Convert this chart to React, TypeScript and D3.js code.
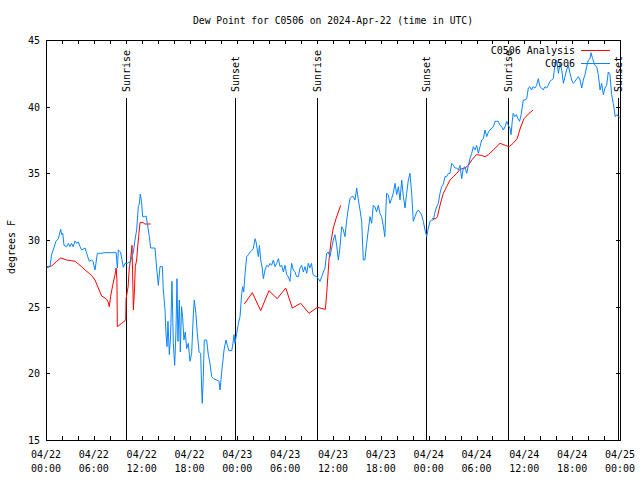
import React from "react";
import * as d3 from "d3";

// hours since 2024-04-22 00:00 UTC
const obsHours = [
  0.0, 0.3, 0.5, 0.7, 0.9, 1.25, 1.55, 1.84, 1.96, 2.1, 2.26, 2.6, 2.8, 3.0, 3.2, 3.4, 3.64, 3.85, 4.05, 4.27,
  4.47, 4.9, 5.1, 5.43, 5.7, 5.9, 6.15, 6.44, 6.8, 7.5, 8.8, 8.95, 9.07, 9.35, 9.7, 9.9, 10.2, 10.6, 10.8, 10.96,
  11.16, 11.37, 11.58, 11.7, 11.83, 11.98, 12.13, 12.34, 12.55, 12.71, 12.96, 13.13, 13.67, 13.88, 14.09, 14.3,
  14.6, 14.7, 14.93, 15.05, 15.18, 15.3, 15.47, 15.63, 15.8, 15.97, 16.14, 16.3, 16.43, 16.55, 16.72, 16.85, 17.0,
  17.14, 17.3, 17.47, 17.64, 17.85, 18.06, 18.27, 18.48, 18.6, 18.8, 18.98, 19.2, 19.4, 19.53, 19.6, 19.73, 19.86,
  20.15, 20.36, 20.57, 20.78, 21.0, 21.4, 21.7, 21.83, 22.04, 22.33, 22.58, 22.75, 22.95, 23.3, 23.45, 23.58, 23.7,
  23.92, 24.13, 24.34, 24.55, 24.67, 24.8, 24.96, 25.17, 25.4, 25.6, 25.8, 26.0, 26.22, 26.35, 26.5, 26.64, 26.77,
  26.93, 27.1, 27.26, 27.47, 27.68, 27.9, 28.1, 28.3, 28.52, 28.73, 28.94, 29.15, 29.36, 29.57, 29.77, 29.98,
  30.19, 30.4, 30.6, 30.81, 31.02, 31.23, 31.44, 31.65, 31.86, 32.07, 32.28, 32.49, 32.7, 32.9, 33.1, 33.3, 33.5,
  33.74, 33.95, 34.16, 34.37, 34.58, 34.79, 35.0, 35.2, 35.4, 35.62, 35.83, 36.04, 36.25, 36.46, 36.67, 36.88,
  37.09, 37.3, 37.5, 37.72, 37.93, 38.13, 38.34, 38.55, 38.76, 38.97, 39.18, 39.39, 39.6, 39.8, 40.0, 40.22, 40.43,
  40.64, 40.85, 41.05, 41.26, 41.47, 41.68, 41.89, 42.1, 42.3, 42.5, 42.72, 42.93, 43.14, 43.35, 43.56, 43.78,
  43.99, 44.2, 44.41, 44.62, 44.83, 45.04, 45.24, 45.45, 45.66, 45.87, 46.07, 46.28, 46.49, 46.7, 46.9, 47.1,
  47.33, 47.54, 47.75, 47.96, 48.17, 48.38, 48.59, 48.8, 49.0, 49.21, 49.42, 49.63, 49.84, 50.05, 50.26, 50.47,
  50.68, 50.89, 51.1, 51.31, 51.52, 51.73, 51.93, 52.14, 52.35, 52.56, 52.77, 52.98, 53.18, 53.4, 53.6, 53.81,
  54.02, 54.23, 54.44, 54.65, 54.86, 55.07, 55.28, 55.49, 55.7, 55.91, 56.12, 56.32, 56.53, 56.74, 56.95, 57.16,
  57.37, 57.58, 57.79, 58.0, 58.2, 58.33, 58.5, 58.6, 58.8, 59.0, 59.2, 59.4, 59.6, 59.87, 60.08, 60.3, 60.5,
  60.7, 60.9, 61.1, 61.33, 61.54, 61.75, 61.96, 62.17, 62.38, 62.59, 62.8, 63.0, 63.2, 63.43, 63.64, 63.85, 64.06,
  64.27, 64.48, 64.69, 64.9, 65.1, 65.3, 65.52, 65.73, 65.94, 66.15, 66.36, 66.57, 66.78, 66.99, 67.2, 67.4,
  67.61, 67.82, 68.03, 68.24, 68.36, 68.57, 68.86, 69.07, 69.28, 69.5, 69.7, 69.91, 70.12, 70.33, 70.53, 70.74,
  70.95, 71.16, 71.4, 71.6, 71.8, 72.0,
];
const obsDew = [
  27.95, 27.95, 28.0, 28.9, 29.25, 29.9, 30.1, 30.8, 30.4, 30.5, 29.6, 29.5, 29.75, 29.5, 29.75, 29.5, 29.93,
  29.75, 29.85, 29.5, 29.25, 29.4, 29.0, 28.4, 28.5, 28.4, 27.75, 29.0, 29.0, 29.05, 29.05, 27.9, 29.25, 29.1,
  27.95, 28.25, 28.25, 28.4, 28.75, 29.1, 30.0, 30.75, 32.5, 32.7, 33.45, 32.9, 31.75, 31.75, 31.8, 31.25, 30.25,
  29.4, 29.4, 27.9, 26.6, 28.0, 28.0, 26.4, 24.75, 23.0, 22.0, 23.9, 21.4, 22.8, 26.9, 22.25, 20.6, 23.1, 27.1,
  22.4, 25.5, 21.6, 25.0, 24.2, 22.5, 23.1, 21.85, 22.25, 20.9, 21.5, 24.4, 25.5, 24.5, 23.0, 21.6, 21.5, 18.75,
  17.75, 19.75, 22.5, 22.5, 21.4, 20.75, 19.75, 19.6, 19.5, 19.4, 18.75, 20.1, 21.75, 22.5, 22.1, 21.7, 21.7,
  22.25, 22.9, 22.25, 23.0, 23.75, 24.25, 26.0, 26.5, 26.1, 27.4, 28.75, 28.9, 29.1, 29.2, 29.35, 30.1, 29.85,
  29.25, 28.75, 29.6, 28.5, 28.0, 27.1, 27.75, 28.1, 28.0, 28.25, 28.1, 28.5, 28.0, 28.25, 28.6, 28.0, 28.1, 27.6,
  28.1, 27.4, 27.25, 26.9, 28.25, 27.75, 27.6, 27.25, 27.25, 27.9, 28.1, 27.6, 28.0, 27.5, 28.25, 27.9, 28.25,
  27.4, 27.3, 27.25, 27.1, 26.9, 27.25, 27.6, 27.9, 29.0, 29.1, 28.75, 29.4, 30.0, 30.4, 29.6, 28.5, 29.5, 31.0,
  30.75, 30.25, 31.5, 32.4, 33.1, 33.25, 33.25, 33.0, 33.9, 33.0, 32.25, 31.4, 28.5, 28.5, 29.75, 30.75, 31.75,
  31.25, 32.6, 32.5, 32.1, 32.6, 32.0, 31.75, 31.1, 30.25, 33.5, 33.4, 32.75, 33.1, 33.5, 34.25, 33.4, 34.0, 33.0,
  34.5, 33.25, 32.4, 33.5, 34.5, 35.0, 33.5, 31.4, 31.75, 32.1, 32.25, 32.1, 31.9, 31.4, 30.75, 30.25, 30.9, 31.4,
  31.5, 31.5, 32.1, 32.5, 32.75, 33.5, 34.0, 34.2, 34.75, 34.75, 35.0, 35.0, 35.75, 35.6, 35.4, 35.4, 35.25, 35.6,
  34.6, 35.4, 35.5, 35.0, 35.6, 36.1, 36.5, 37.0, 36.75, 37.1, 36.5, 37.0, 37.5, 37.6, 38.25, 37.75, 38.1, 38.25,
  38.4, 38.5, 38.9, 38.9, 38.9, 38.6, 38.5, 38.25, 38.5, 38.9, 38.6, 38.4, 37.9, 39.0, 39.5, 39.25, 39.4, 39.1,
  38.9, 39.4, 40.5, 40.5, 40.6, 41.4, 41.5, 41.25, 41.5, 41.4, 41.6, 42.1, 41.5, 41.4, 41.25, 41.5, 41.4, 41.6,
  41.9, 42.0, 42.1, 43.25, 43.5, 42.5, 43.25, 42.75, 41.75, 42.25, 42.75, 43.1, 42.5, 42.0, 41.75, 41.9, 42.1,
  42.25, 42.0, 41.4, 42.0, 42.4, 43.0, 43.5, 43.6, 44.05, 43.6, 43.1, 43.0, 42.4, 41.25, 41.75, 40.9, 41.4, 41.6,
  42.6, 42.4, 40.9, 40.25, 39.25, 39.4, 39.25, 39.2,
];

// analysis: NaN marks a gap between runs
const anaHours = [
  0.0, 0.3, 0.7, 1.34, 1.84, 2.6, 3.2, 3.64, 4.05, 4.47, 4.9, 5.3, 5.7, 6.15, 6.56, 6.98, 7.4, 7.6, 7.8, 7.94,
  8.1, 8.36, 8.66, 8.8, 8.9, 8.95, 9.5, 10.0, 10.05, 10.3, 10.45, 10.6, 10.79, 10.96, 11.1, 11.2, 11.37, 11.5,
  11.62, 11.79, 12.2, 12.4, 13.13, 18.0,
  24.88, 25.88, 26.93, 27.97, 29.0, 30.07, 30.9, 31.95, 32.99, 34.03, 35.04, 35.2, 35.5, 35.75, 36.04, 36.38,
  36.67, 36.96, 42.0,
  48.45, 48.9, 49.1, 49.42, 49.6, 49.84, 50.26, 50.68, 51.1, 51.52, 51.93, 52.56, 52.98, 53.4, 54.0, 54.6, 55.07,
  55.5, 56.1, 56.95, 57.6, 58.1, 58.6, 59.1, 59.5, 59.96, 60.5, 61.1,
];
const anaDew = [
  28.0, 28.0, 28.05, 28.4, 28.65, 28.5, 28.45, 28.4, 28.2, 28.0, 27.75, 27.55, 27.35, 27.0, 26.4, 25.8, 25.65,
  25.55, 25.35, 25.0, 25.75, 26.6, 27.4, 27.9, 27.0, 23.5, 23.75, 24.0, 25.6, 26.5, 27.9, 28.5, 29.6, 24.75,
  26.25, 28.0, 28.5, 29.5, 30.25, 31.3, 31.3, 31.2, 31.2, NaN,
  25.2, 26.05, 24.7, 26.2, 25.6, 26.4, 24.9, 25.25, 24.5, 24.95, 24.8, 25.9, 28.5, 29.9, 30.9, 31.6, 32.1, 32.6,
  NaN,
  31.6, 31.6, 31.75, 32.6, 33.0, 33.5, 34.0, 34.5, 34.75, 35.0, 35.3, 35.4, 35.6, 36.0, 36.4, 36.35, 36.25, 36.4,
  36.75, 37.25, 37.1, 37.0, 37.25, 37.6, 38.4, 39.1, 39.45, 39.75,
];

const sunriseHours = [10.0, 34.0, 58.0];
const sunsetHours = [23.65, 47.65, 71.75];
const yTicks = [15, 20, 25, 30, 35, 40, 45];

const title = "Dew Point for C0506 on 2024-Apr-22 (time in UTC)";
const start = Date.UTC(2024, 3, 22);
const toDate = (h: number) => new Date(start + h * 3600e3);

const font = "'DejaVu Sans Mono', monospace";
const red = "#ff0000";
const blue = "#0a84ff";

export default function App() {
  const left = 46, right = 620, top = 40, bottom = 440;
  const x = d3.scaleUtc().domain([toDate(0), toDate(72)]).range([left, right]);
  const y = d3.scaleLinear().domain([15, 45]).range([bottom, top]);

  const obs = obsHours.map((h, i) => ({ t: toDate(h), v: obsDew[i] }));
  const ana = anaHours.map((h, i) => ({ t: toDate(h), v: anaDew[i] }));
  const line = d3
    .line<{ t: Date; v: number }>()
    .defined((d) => !isNaN(d.v))
    .x((d) => x(d.t))
    .y((d) => y(d.v));

  const minor = x.ticks(d3.utcHour.every(2)!);
  const major = x.ticks(d3.utcHour.every(6)!);
  const fmtDay = d3.utcFormat("%m/%d");
  const fmtTime = d3.utcFormat("%H:%M");
  const tl = 4;

  const sun = [
    ...sunriseHours.map((h) => ({ h, label: "Sunrise" })),
    ...sunsetHours.map((h) => ({ h, label: "Sunset" })),
  ];

  return (
    <svg width={640} height={480} style={{ position: "absolute", left: 0, top: 0, background: "#fff" }} fontFamily={font} fontSize={10}>
      <rect width={640} height={480} fill="#fff" />
      <text x={333} y={20} textAnchor="middle" dominantBaseline="central" fontSize={9.7}>
        {title}
      </text>

      {/* sunrise / sunset markers */}
      {sun.map((s, i) => {
        const sx = Math.round(x(toDate(s.h))) + 0.5;
        return (
          <g key={i}>
            <line x1={sx} x2={sx} y1={98} y2={bottom} stroke="#000" />
            <text transform={`translate(${sx},92) rotate(-90)`} textAnchor="start" dominantBaseline="central">
              {s.label}
            </text>
          </g>
        );
      })}

      <path d={line(ana) || ""} fill="none" stroke={red} strokeWidth={1} />
      <path d={line(obs) || ""} fill="none" stroke={blue} strokeWidth={1} />

      {/* frame and ticks */}
      <rect x={left + 0.5} y={top + 0.5} width={right - left} height={bottom - top} fill="none" stroke="#000" />
      {minor.map((t, i) => {
        const tx = Math.round(x(t)) + 0.5;
        return (
          <g key={i} stroke="#000">
            <line x1={tx} x2={tx} y1={bottom} y2={bottom - tl} />
            <line x1={tx} x2={tx} y1={top} y2={top + tl} />
          </g>
        );
      })}
      {major.map((t, i) => (
        <g key={i}>
          <text x={x(t)} y={454} textAnchor="middle" dominantBaseline="central">
            {fmtDay(t)}
          </text>
          <text x={x(t)} y={468} textAnchor="middle" dominantBaseline="central">
            {fmtTime(t)}
          </text>
        </g>
      ))}
      {yTicks.map((v) => {
        const ty = Math.round(y(v)) + 0.5;
        return (
          <g key={v}>
            <line x1={left} x2={left + tl} y1={ty} y2={ty} stroke="#000" />
            <line x1={right} x2={right - tl} y1={ty} y2={ty} stroke="#000" />
            <text x={40} y={ty} textAnchor="end" dominantBaseline="central">
              {v}
            </text>
          </g>
        );
      })}
      <text transform="translate(11,247) rotate(-90)" textAnchor="middle" dominantBaseline="central">
        degrees F
      </text>

      {/* legend */}
      <text x={575} y={50} textAnchor="end" dominantBaseline="central">
        C0506 Analysis
      </text>
      <line x1={581} x2={610} y1={50.5} y2={50.5} stroke={red} />
      <text x={575} y={63} textAnchor="end" dominantBaseline="central">
        C0506
      </text>
      <line x1={581} x2={610} y1={63.5} y2={63.5} stroke={blue} />
    </svg>
  );
}
